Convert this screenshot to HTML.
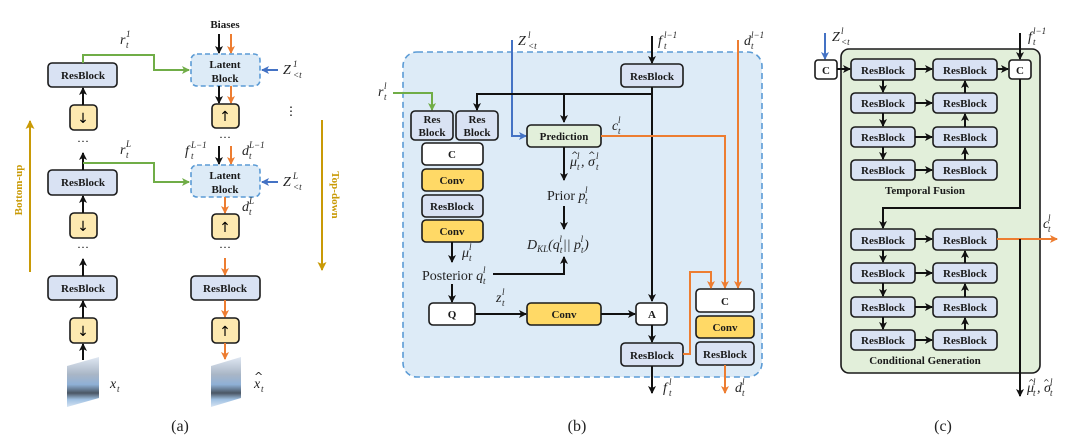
<!DOCTYPE html>
<html><head><meta charset="utf-8"><style>
html,body{margin:0;padding:0;background:#fff}
svg{display:block}
.b{font-family:"Liberation Serif",serif;font-weight:bold;font-size:11px;fill:#1a1a1a;text-anchor:middle}
.m{font-family:"Liberation Serif",serif;font-style:italic;font-size:14px;fill:#222}
.s{font-size:9px}
.h{font-family:"DejaVu Serif",serif}
.cap{font-family:"Liberation Serif",serif;font-size:16px;fill:#222;text-anchor:middle}
.rb{fill:#d9e2f3;stroke:#1a1a1a;stroke-width:1.6}
.yb{fill:#fde9b0;stroke:#1a1a1a;stroke-width:1.6}
.cb{fill:#ffd966;stroke:#1a1a1a;stroke-width:1.6}
.wb{fill:#fff;stroke:#1a1a1a;stroke-width:1.6}
.k{stroke:#111;stroke-width:2;fill:none}
.o{stroke:#ed7d31;stroke-width:2;fill:none}
.g{stroke:#70ad47;stroke-width:2;fill:none}
.bl{stroke:#4472c4;stroke-width:2;fill:none}
.au{stroke:#c99a06;stroke-width:2;fill:none}
</style></head><body>
<svg width="1080" height="446" viewBox="0 0 1080 446" xmlns="http://www.w3.org/2000/svg">
<defs>
<marker id="ak" markerWidth="8" markerHeight="8" refX="7" refY="4" orient="auto" markerUnits="userSpaceOnUse"><path d="M0,0 L8,4 L0,8 L2,4z" fill="#111"/></marker>
<marker id="ao" markerWidth="8" markerHeight="8" refX="7" refY="4" orient="auto" markerUnits="userSpaceOnUse"><path d="M0,0 L8,4 L0,8 L2,4z" fill="#ed7d31"/></marker>
<marker id="ab" markerWidth="8" markerHeight="8" refX="7" refY="4" orient="auto" markerUnits="userSpaceOnUse"><path d="M0,0 L8,4 L0,8 L2,4z" fill="#4472c4"/></marker>
<marker id="ag" markerWidth="8" markerHeight="8" refX="7" refY="4" orient="auto" markerUnits="userSpaceOnUse"><path d="M0,0 L8,4 L0,8 L2,4z" fill="#70ad47"/></marker>
<marker id="au" markerWidth="9" markerHeight="9" refX="8" refY="4.5" orient="auto" markerUnits="userSpaceOnUse"><path d="M0,0 L9,4.5 L0,9 L2,4.5z" fill="#c99a06"/></marker>
<linearGradient id="img" x1="0" y1="0" x2="0" y2="1"><stop offset="0" stop-color="#dfe7f2"/><stop offset="0.35" stop-color="#a9b6c6"/><stop offset="0.55" stop-color="#8fb0d6"/><stop offset="0.72" stop-color="#4a5664"/><stop offset="0.85" stop-color="#9fc0e2"/><stop offset="1" stop-color="#d6e4f3"/></linearGradient>
</defs>

<!-- ===== Panel (a) ===== -->
<line class="au" x1="30" y1="272" x2="30" y2="121" marker-end="url(#au)"/>
<text transform="translate(22,190) rotate(-90)" font-family="Liberation Serif" font-weight="bold" font-size="11" fill="#c99a06" text-anchor="middle">Bottom-up</text>
<line class="au" x1="322" y1="120" x2="322" y2="270" marker-end="url(#au)"/>
<text transform="translate(332,195) rotate(90)" font-family="Liberation Serif" font-weight="bold" font-size="11" fill="#c99a06" text-anchor="middle">Top-down</text>

<rect class="rb" x="48" y="63" width="69" height="24" rx="4"/><text class="b" x="83" y="79">ResBlock</text>
<rect class="rb" x="48" y="170" width="69" height="25" rx="4"/><text class="b" x="83" y="186">ResBlock</text>
<rect class="rb" x="48" y="276" width="69" height="24" rx="4"/><text class="b" x="83" y="292">ResBlock</text>
<rect class="yb" x="70" y="105" width="27" height="25" rx="4"/><text x="83" y="123" font-size="14" text-anchor="middle" font-family="DejaVu Sans">↓</text>
<rect class="yb" x="70" y="213" width="27" height="25" rx="4"/><text x="83" y="231" font-size="14" text-anchor="middle" font-family="DejaVu Sans">↓</text>
<rect class="yb" x="70" y="318" width="27" height="25" rx="4"/><text x="83" y="336" font-size="14" text-anchor="middle" font-family="DejaVu Sans">↓</text>
<line class="k" x1="83" y1="105" x2="83" y2="88" marker-end="url(#ak)"/>
<line class="k" x1="83" y1="170" x2="83" y2="153" marker-end="url(#ak)"/>
<line class="k" x1="83" y1="213" x2="83" y2="196" marker-end="url(#ak)"/>
<line class="k" x1="83" y1="276" x2="83" y2="259" marker-end="url(#ak)"/>
<line class="k" x1="83" y1="318" x2="83" y2="301" marker-end="url(#ak)"/>
<line class="k" x1="83" y1="360" x2="83" y2="344" marker-end="url(#ak)"/>
<text x="83" y="145" text-anchor="middle" font-size="12">···</text>
<text x="83" y="251" text-anchor="middle" font-size="12">···</text>
<polygon points="67,366 99,357 99,398 67,407" fill="url(#img)"/>
<text class="m" x="110" y="388">x<tspan class="s" x="117" dy="4">t</tspan></text>

<path class="g" d="M83,63 V55 H154 V70 H189" marker-end="url(#ag)"/>
<path class="g" d="M83,163 H154 V182 H189" marker-end="url(#ag)"/>
<text class="m" x="120" y="44">r<tspan class="s" x="126" dy="4">t</tspan><tspan class="s" x="126" dy="-11">1</tspan></text>
<text class="m" x="120" y="154">r<tspan class="s" x="126" dy="4">t</tspan><tspan class="s" x="126" dy="-11">L</tspan></text>

<text class="b" x="225" y="28">Biases</text>
<line class="k" x1="219" y1="34" x2="219" y2="53" marker-end="url(#ak)"/>
<line class="o" x1="231" y1="34" x2="231" y2="53" marker-end="url(#ao)"/>
<rect x="191" y="54" width="69" height="32" rx="6" fill="#ddebf7" stroke="#5b9bd5" stroke-width="1.6" stroke-dasharray="5,3"/>
<text class="b" x="225" y="68">Latent</text><text class="b" x="225" y="82">Block</text>
<line class="bl" x1="278" y1="70" x2="262" y2="70" marker-end="url(#ab)"/>
<text class="m" x="283" y="74">Z<tspan class="s" x="293" dy="4">&lt;t</tspan><tspan class="s" x="293" dy="-11">1</tspan></text>
<line class="k" x1="219" y1="86" x2="219" y2="103" marker-end="url(#ak)"/>
<line class="o" x1="231" y1="86" x2="231" y2="103" marker-end="url(#ao)"/>
<rect class="yb" x="212" y="104" width="27" height="24" rx="4"/><text x="225" y="121" font-size="14" text-anchor="middle" font-family="DejaVu Sans">↑</text>
<text x="291" y="115" text-anchor="middle" font-size="12">⋮</text>
<text x="225" y="141" text-anchor="middle" font-size="12">···</text>
<text class="m" x="185" y="155">f<tspan class="s" x="191" dy="4">t</tspan><tspan class="s" x="191" dy="-11">L−1</tspan></text>
<text class="m" x="242" y="155">d<tspan class="s" x="249" dy="4">t</tspan><tspan class="s" x="249" dy="-11">L−1</tspan></text>
<line class="k" x1="219" y1="146" x2="219" y2="164" marker-end="url(#ak)"/>
<line class="o" x1="231" y1="146" x2="231" y2="164" marker-end="url(#ao)"/>
<rect x="191" y="165" width="69" height="32" rx="6" fill="#ddebf7" stroke="#5b9bd5" stroke-width="1.6" stroke-dasharray="5,3"/>
<text class="b" x="225" y="179">Latent</text><text class="b" x="225" y="193">Block</text>
<line class="bl" x1="278" y1="182" x2="262" y2="182" marker-end="url(#ab)"/>
<text class="m" x="283" y="186">Z<tspan class="s" x="293" dy="4">&lt;t</tspan><tspan class="s" x="293" dy="-11">L</tspan></text>
<line class="o" x1="225" y1="197" x2="225" y2="213" marker-end="url(#ao)"/>
<text class="m" x="242" y="211">d<tspan class="s" x="249" dy="4">t</tspan><tspan class="s" x="249" dy="-11">L</tspan></text>
<rect class="yb" x="212" y="214" width="27" height="25" rx="4"/><text x="225" y="232" font-size="14" text-anchor="middle" font-family="DejaVu Sans">↑</text>
<text x="225" y="251" text-anchor="middle" font-size="12">···</text>
<line class="o" x1="225" y1="258" x2="225" y2="275" marker-end="url(#ao)"/>
<rect class="rb" x="191" y="276" width="69" height="24" rx="4"/><text class="b" x="225" y="292">ResBlock</text>
<line class="o" x1="225" y1="300" x2="225" y2="317" marker-end="url(#ao)"/>
<rect class="yb" x="212" y="318" width="27" height="25" rx="4"/><text x="225" y="336" font-size="14" text-anchor="middle" font-family="DejaVu Sans">↑</text>
<line class="o" x1="225" y1="343" x2="225" y2="359" marker-end="url(#ao)"/>
<polygon points="211,366 241,357 241,398 211,407" fill="url(#img)"/>
<text class="m" x="254" y="388">x<tspan class="s" x="261" dy="4">t</tspan></text>
<text x="254" y="380" font-size="11" font-family="DejaVu Sans" fill="#222">^</text>
<text class="cap" x="180" y="431">(a)</text>

<!-- ===== Panel (b) ===== -->
<rect x="403" y="52" width="359" height="325" rx="14" fill="#ddebf7" stroke="#5b9bd5" stroke-width="1.6" stroke-dasharray="6,4"/>
<text class="m" x="518" y="45">Z<tspan class="s" x="528" dy="4">&lt;t</tspan><tspan class="s" x="528" dy="-11">l</tspan></text>
<path class="bl" d="M512,40 V136 H526" marker-end="url(#ab)"/>
<text class="m" x="658" y="45">f<tspan class="s" x="664" dy="4">t</tspan><tspan class="s" x="664" dy="-11">l−1</tspan></text>
<line class="k" x1="652" y1="36" x2="652" y2="63" marker-end="url(#ak)"/>
<text class="m" x="744" y="45">d<tspan class="s" x="751" dy="4">t</tspan><tspan class="s" x="751" dy="-11">l−1</tspan></text>
<line class="o" x1="738" y1="40" x2="738" y2="288" marker-end="url(#ao)"/>
<rect class="rb" x="621" y="64" width="62" height="23" rx="4"/><text class="b" x="652" y="80">ResBlock</text>
<path class="k" d="M652,87 V301" marker-end="url(#ak)"/>
<path class="k" d="M652,94 H477 V110" marker-end="url(#ak)"/>
<path class="k" d="M564,94 V122" marker-end="url(#ak)"/>
<text class="m" x="378" y="96">r<tspan class="s" x="384" dy="4">t</tspan><tspan class="s" x="384" dy="-11">l</tspan></text>
<path class="g" d="M393,93 H432 V110" marker-end="url(#ag)"/>
<rect class="rb" x="411" y="111" width="42" height="29" rx="4"/><text class="b" x="432" y="123">Res</text><text class="b" x="432" y="136">Block</text>
<rect class="rb" x="456" y="111" width="42" height="29" rx="4"/><text class="b" x="477" y="123">Res</text><text class="b" x="477" y="136">Block</text>
<rect class="wb" x="422" y="143" width="61" height="22" rx="4"/><text class="b" x="452" y="158">C</text>
<rect class="cb" x="422" y="169" width="61" height="22" rx="4"/><text class="b" x="452" y="184">Conv</text>
<rect class="rb" x="422" y="195" width="61" height="22" rx="4"/><text class="b" x="452" y="210">ResBlock</text>
<rect class="cb" x="422" y="220" width="61" height="22" rx="4"/><text class="b" x="452" y="235">Conv</text>
<line class="k" x1="452" y1="242" x2="452" y2="262" marker-end="url(#ak)"/>
<text class="m" x="462" y="257">μ<tspan class="s" x="469" dy="4">t</tspan><tspan class="s" x="469" dy="-11">l</tspan></text>
<text x="422" y="280" font-family="Liberation Serif" font-size="14" fill="#222">Posterior <tspan font-style="italic">q</tspan><tspan class="s" font-style="italic" x="483" dy="4">t</tspan><tspan class="s" font-style="italic" x="483" dy="-11">l</tspan></text>
<path class="k" d="M493,274 H564 V257" marker-end="url(#ak)"/>
<line class="k" x1="452" y1="284" x2="452" y2="302" marker-end="url(#ak)"/>
<rect class="wb" x="429" y="303" width="46" height="22" rx="4"/><text class="b" x="452" y="318">Q</text>
<text class="m" x="496" y="302">z<tspan class="s" x="502" dy="4">t</tspan><tspan class="s" x="502" dy="-11">l</tspan></text>
<line class="k" x1="475" y1="314" x2="526" y2="314" marker-end="url(#ak)"/>
<rect class="cb" x="527" y="303" width="74" height="22" rx="4"/><text class="b" x="564" y="318">Conv</text>
<line class="k" x1="601" y1="314" x2="635" y2="314" marker-end="url(#ak)"/>
<rect class="wb" x="636" y="303" width="31" height="22" rx="4"/><text class="b" x="652" y="318">A</text>
<line class="k" x1="652" y1="325" x2="652" y2="342" marker-end="url(#ak)"/>
<rect class="rb" x="621" y="343" width="62" height="23" rx="4"/><text class="b" x="652" y="359">ResBlock</text>
<line class="k" x1="652" y1="366" x2="652" y2="393" marker-end="url(#ak)"/>
<text class="m" x="663" y="392">f<tspan class="s" x="669" dy="4">t</tspan><tspan class="s" x="669" dy="-11">l</tspan></text>
<rect x="527" y="125" width="74" height="22" rx="4" fill="#e2efda" stroke="#1a1a1a" stroke-width="1.6"/><text class="b" x="564" y="140">Prediction</text>
<text class="m" x="612" y="130">c<tspan class="s" x="618" dy="4">t</tspan><tspan class="s" x="618" dy="-11">l</tspan></text>
<path class="o" d="M601,136 H725 V288" marker-end="url(#ao)"/>
<line class="k" x1="564" y1="147" x2="564" y2="180" marker-end="url(#ak)"/>
<text class="m" x="570" y="166">μ<tspan class="s" x="577" dy="4">t</tspan><tspan class="s" x="577" dy="-11">l</tspan><tspan x="581" dy="7">, σ</tspan><tspan class="s" x="596" dy="4">t</tspan><tspan class="s" x="596" dy="-11">l</tspan></text>
<text x="571" y="158" font-size="9" font-family="DejaVu Sans" fill="#222">^</text>
<text x="588" y="158" font-size="9" font-family="DejaVu Sans" fill="#222">^</text>
<text x="547" y="200" font-family="Liberation Serif" font-size="14" fill="#222">Prior <tspan font-style="italic">p</tspan><tspan class="s" font-style="italic" x="585" dy="4">t</tspan><tspan class="s" font-style="italic" x="585" dy="-11">l</tspan></text>
<line class="k" x1="564" y1="206" x2="564" y2="229" marker-end="url(#ak)"/>
<text class="m" x="527" y="249">D<tspan class="s" dy="3">KL</tspan><tspan dy="-3">(q</tspan><tspan class="s" dy="4">t</tspan><tspan class="s" dx="-3" dy="-11">l</tspan><tspan dx="1" dy="7">|| p</tspan><tspan class="s" dy="4">t</tspan><tspan class="s" dx="-3" dy="-11">l</tspan><tspan dx="1" dy="7">)</tspan></text>
<rect class="wb" x="696" y="289" width="58" height="23" rx="4"/><text class="b" x="725" y="305">C</text>
<rect class="cb" x="696" y="316" width="58" height="22" rx="4"/><text class="b" x="725" y="331">Conv</text>
<rect class="rb" x="696" y="342" width="58" height="23" rx="4"/><text class="b" x="725" y="358">ResBlock</text>
<path class="o" d="M683,354 H690 V272 H711 V288" marker-end="url(#ao)"/>
<line class="o" x1="725" y1="365" x2="725" y2="393" marker-end="url(#ao)"/>
<text class="m" x="735" y="392">d<tspan class="s" x="742" dy="4">t</tspan><tspan class="s" x="742" dy="-11">l</tspan></text>
<text class="cap" x="577" y="431">(b)</text>

<!-- ===== Panel (c) ===== -->
<rect x="841" y="49" width="199" height="324" rx="8" fill="#e2efda" stroke="#1a1a1a" stroke-width="1.6"/>
<text class="m" x="832" y="41" font-size="12">Z<tspan class="s" x="841" dy="4">&lt;t</tspan><tspan class="s" x="841" dy="-11">l</tspan></text>
<line class="bl" x1="825" y1="33" x2="825" y2="59" marker-end="url(#ab)"/>
<rect class="wb" x="815" y="60" width="22" height="19" rx="3"/><text class="b" x="826" y="74" font-size="9">C</text>
<line class="k" x1="837" y1="69" x2="850" y2="69" marker-end="url(#ak)"/>
<text class="m" x="1028" y="41" font-size="12">f<tspan class="s" x="1033" dy="4">t</tspan><tspan class="s" x="1033" dy="-11">l−1</tspan></text>
<line class="k" x1="1020" y1="33" x2="1020" y2="59" marker-end="url(#ak)"/>
<rect class="wb" x="1009" y="60" width="22" height="19" rx="3"/><text class="b" x="1020" y="74" font-size="9">C</text>
<line class="k" x1="997" y1="69" x2="1008" y2="69" marker-end="url(#ak)"/>
<g id="tf">
<rect class="rb" x="851" y="59" width="64" height="21" rx="4"/><text class="b" x="883" y="74">ResBlock</text>
<rect class="rb" x="933" y="59" width="64" height="21" rx="4"/><text class="b" x="965" y="74">ResBlock</text>
<rect class="rb" x="851" y="93" width="64" height="20" rx="4"/><text class="b" x="883" y="107">ResBlock</text>
<rect class="rb" x="933" y="93" width="64" height="20" rx="4"/><text class="b" x="965" y="107">ResBlock</text>
<rect class="rb" x="851" y="127" width="64" height="20" rx="4"/><text class="b" x="883" y="141">ResBlock</text>
<rect class="rb" x="933" y="127" width="64" height="20" rx="4"/><text class="b" x="965" y="141">ResBlock</text>
<rect class="rb" x="851" y="160" width="64" height="20" rx="4"/><text class="b" x="883" y="174">ResBlock</text>
<rect class="rb" x="933" y="160" width="64" height="20" rx="4"/><text class="b" x="965" y="174">ResBlock</text>
<line class="k" x1="915" y1="69" x2="932" y2="69" marker-end="url(#ak)"/>
<line class="k" x1="915" y1="103" x2="932" y2="103" marker-end="url(#ak)"/>
<line class="k" x1="915" y1="137" x2="932" y2="137" marker-end="url(#ak)"/>
<line class="k" x1="915" y1="170" x2="932" y2="170" marker-end="url(#ak)"/>
<line class="k" x1="883" y1="80" x2="883" y2="92" marker-end="url(#ak)"/>
<line class="k" x1="883" y1="113" x2="883" y2="126" marker-end="url(#ak)"/>
<line class="k" x1="883" y1="147" x2="883" y2="159" marker-end="url(#ak)"/>
<line class="k" x1="965" y1="93" x2="965" y2="81" marker-end="url(#ak)"/>
<line class="k" x1="965" y1="127" x2="965" y2="114" marker-end="url(#ak)"/>
<line class="k" x1="965" y1="160" x2="965" y2="148" marker-end="url(#ak)"/>
</g>
<text class="b" x="925" y="194">Temporal Fusion</text>
<path class="k" d="M1020,79 V208 H883 V228" marker-end="url(#ak)"/>
<use href="#tf" transform="translate(0,170)"/>
<text class="b" x="925" y="364">Conditional Generation</text>
<line class="o" x1="997" y1="239" x2="1057" y2="239" marker-end="url(#ao)"/>
<text class="m" x="1043" y="228" font-size="12">c<tspan class="s" x="1048" dy="4">t</tspan><tspan class="s" x="1048" dy="-11">l</tspan></text>
<line class="k" x1="1020" y1="239" x2="1020" y2="396" marker-end="url(#ak)"/>
<text class="m" x="1027" y="392" font-size="12">μ<tspan class="s" x="1033" dy="4">t</tspan><tspan class="s" x="1033" dy="-11">l</tspan><tspan x="1037" dy="7">, σ</tspan><tspan class="s" x="1050" dy="4">t</tspan><tspan class="s" x="1050" dy="-11">l</tspan></text>
<text x="1028" y="385" font-size="8" font-family="DejaVu Sans" fill="#222">^</text>
<text x="1043" y="385" font-size="8" font-family="DejaVu Sans" fill="#222">^</text>
<text class="cap" x="943" y="431">(c)</text>
</svg>
</body></html>
